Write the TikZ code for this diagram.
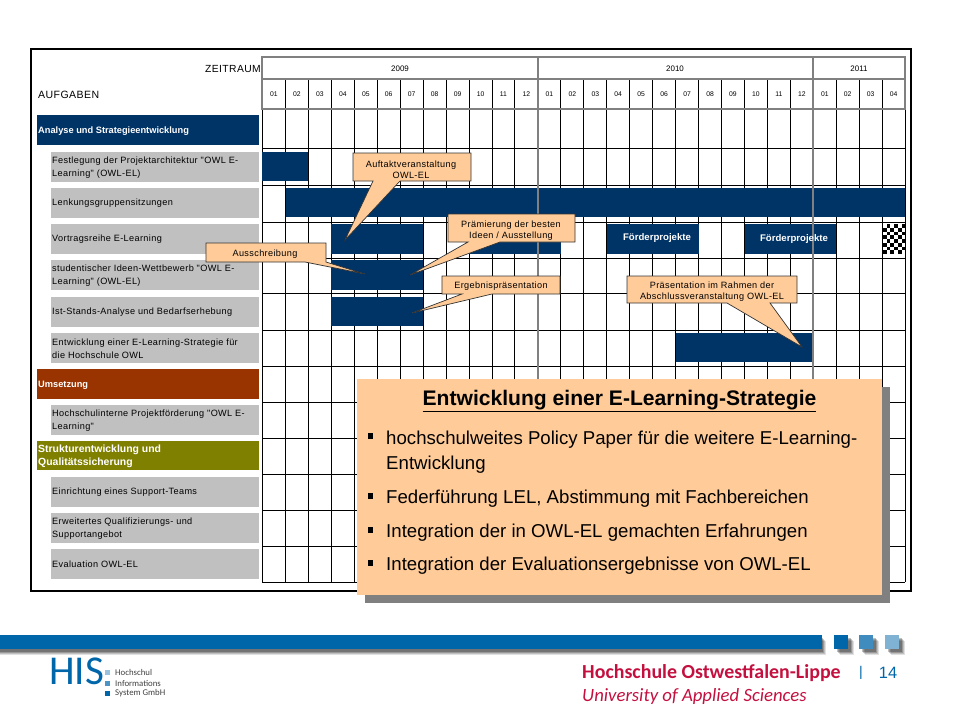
\documentclass[tikz,border=0pt]{standalone}
\usepackage{fontspec}
\setmainfont{Liberation Sans}
\newfontfamily\logofont{Carlito}
\newfontfamily\widefont[LetterSpace=4]{Liberation Sans}
\definecolor{OWLnavy}{HTML}{003366}
\definecolor{OWLrust}{HTML}{993300}
\definecolor{OWLolive}{HTML}{808000}
\definecolor{OWLgray}{HTML}{C0C0C0}
\definecolor{OWLframe}{HTML}{808080}
\definecolor{OWLpeach}{HTML}{FFCC99}
\definecolor{HISblue}{HTML}{0066AA}
\definecolor{HSred}{HTML}{C4103F}
\tikzset{
   grouplabel/.style={anchor=west, text=white, align=left, inner sep=0pt, font=\bfseries\fontsize{7.9}{11}\selectfont},
   tasklabel/.style={anchor=west, align=left, inner sep=0pt, font=\widefont\fontsize{7.8}{11}\selectfont},
   gridhead/.style={inner sep=0pt, font=\fontsize{5.8}{7}\selectfont},
   callout/.style={fill=OWLpeach, draw=black!80, line width=0.6pt, line join=miter},
   callouttext/.style={align=center, inner sep=0pt, font=\widefont\fontsize{7.8}{9.6}\selectfont},
   baritem/.style={text=white, inner sep=0pt, font=\bfseries\fontsize{8.2}{9}\selectfont},
   paneltext/.style={anchor=west, align=left, inner sep=0pt, font=\fontsize{15.9}{21.3}\selectfont},
   panelmark/.style={fill=black, inner sep=0pt, minimum size=4.3pt}
}
\begin{document}
\begin{tikzpicture}[x=0.03cm, y=-0.03cm]
   \useasboundingbox (0,0) rectangle (960,720);
   % outer frame
   \draw[line width=2.2pt] (31,49) rectangle (911,591);
   \node[anchor=east, inner sep=0pt, font=\widefont\fontsize{8.8}{9}\selectfont] (zeitraum) at (261,69) {ZEITRAUM};
   \node[anchor=west, inner sep=0pt, font=\widefont\fontsize{9}{9}\selectfont] (aufgaben) at (38,94.5) {AUFGABEN};
   % left column
   \fill[OWLnavy] (37,115) rectangle (259,145);
   \node[grouplabel] (group1) at (38,131.5) {Analyse und Strategieentwicklung};
   \fill[OWLrust] (37,369) rectangle (259,399);
   \node[grouplabel] (group2) at (38,385.5) {Umsetzung};
   \fill[OWLolive] (37,441) rectangle (259,470);
   \node[grouplabel, font=\bfseries\fontsize{8.9}{11}\selectfont] (group3) at (38,456) {Strukturentwicklung und\\Qualitätssicherung};
   \foreach \ytop/\txt [count=\n] in {
      152/{Festlegung der Projektarchitektur "OWL E-\\Learning" (OWL-EL)},
      188/{Lenkungsgruppensitzungen},
      224/{Vortragsreihe E-Learning},
      260/{studentischer Ideen-Wettbewerb "OWL E-\\Learning" (OWL-EL)},
      297/{Ist-Stands-Analyse und Bedarfserhebung},
      333/{Entwicklung einer E-Learning-Strategie für\\die Hochschule OWL},
      405/{Hochschulinterne Projektförderung "OWL E-\\Learning"},
      477/{Einrichtung eines Support-Teams},
      513/{Erweitertes Qualifizierungs- und\\Supportangebot},
      549/{Evaluation OWL-EL}}{
      \fill[OWLgray] (51,\ytop) rectangle (259,\ytop+29.5);
      \node[tasklabel] (task\n) at (52,\ytop+15.5) {\txt};
   }
   % grid
   \foreach \y in {109,148,185,222,258,293,330,366,402,438,474,510,546,582}
      \draw[line width=0.8pt] (262,\y) -- (905,\y);
   \foreach \i in {0,...,28}
      \draw[line width=0.8pt] ({262.5+22.95*\i},79) -- ({262.5+22.95*\i},582);
   \foreach \m [count=\i from 0] in {01,02,03,04,05,06,07,08,09,10,11,12,01,02,03,04,05,06,07,08,09,10,11,12,01,02,03,04}
      \node[gridhead] (month\i) at ({262.5+22.95*(\i+0.5)},94.5) {\m};
   % bars
   \fill[OWLnavy] (262,152) rectangle (308,181);
   \fill[OWLnavy] (285.5,188) rectangle (905,217);
   \fill[OWLnavy] (331,224) rectangle (423,254);
   \fill[OWLnavy] (469,224) rectangle (561,254);
   \fill[OWLnavy] (331,260) rectangle (423,290);
   \fill[OWLnavy] (331,297) rectangle (423,326);
   \fill[OWLnavy] (676,333) rectangle (813,362);
   \fill[OWLnavy] (607,224) rectangle (699,254);
   \fill[OWLnavy] (745,224) rectangle (836,254);
   \fill[white] (883,224) rectangle (905,254);
   \foreach \i in {0,...,5}
      \foreach \j in {0,...,7}{
         \ifodd\numexpr\i+\j\relax
            \fill[black] ({883+3.7*\i},{224+3.75*\j}) rectangle +(3.7,3.75);
         \fi
      }
   % year header
   \draw[OWLframe, line width=1.7pt] (262,57) rectangle (905,109);
   \draw[OWLframe, line width=1.7pt] (262,79) -- (905,79);
   \draw[OWLframe, line width=1.7pt] (538,57) -- (538,582);
   \draw[OWLframe, line width=1.7pt] (813,57) -- (813,582);
   \foreach \x/\yr in {400/2009,675/2010,859/2011}
      \node[gridhead, font=\fontsize{6.8}{7}\selectfont] (year\yr) at (\x,68.5) {\yr};
   \node[baritem] (foerder1) at (657,238) {Förderprojekte};
   \node[baritem] (foerder2) at (794,239) {Förderprojekte};
   % callouts
   \draw[callout] (353,153) -- (471,153) -- (471,181) -- (400,181) -- (345,240) -- (373,181) -- (353,181) -- cycle;
   \node[callouttext] (kickoff) at (411,169.5) {Auftaktveranstaltung\\OWL-EL};
   \draw[callout] (448,214) -- (575,214) -- (575,242) -- (500,242) -- (410,275) -- (468,242) -- (448,242) -- cycle;
   \node[callouttext] (award) at (511,230.5) {Prämierung der besten\\Ideen / Ausstellung};
   \draw[callout] (442,276) -- (560,276) -- (560,294) -- (492,294) -- (412,313) -- (462,294) -- (442,294) -- cycle;
   \node[callouttext] (results) at (501,286) {Ergebnispräsentation};
   \draw[callout] (206,243) -- (326,243) -- (326,262) -- (365,274) -- (305,262) -- (206,262) -- cycle;
   \node[callouttext] (tender) at (265,254) {Ausschreibung};
   \draw[callout] (627,276) -- (797,276) -- (797,303) -- (770,303) -- (802,347) -- (727,303) -- (627,303) -- cycle;
   \node[callouttext] (closing) at (712,291.5) {Präsentation im Rahmen der\\Abschlussveranstaltung OWL-EL};
   % strategy panel
   \fill[OWLframe] (365,387) rectangle (890,603);
   \fill[OWLpeach] (357,379) rectangle (882,595);
   \node[inner sep=0pt, font=\bfseries\fontsize{18}{20}\selectfont] (paneltitle) at (619.5,401) {\underline{Entwicklung einer E-Learning-Strategie}};
   \node[panelmark] (mark1) at (370.5,436) {};
   \node[paneltext] (point1) at (386,452.5) {hochschulweites Policy Paper für die weitere E-Learning-\\Entwicklung};
   \node[panelmark] (mark2) at (370.5,496) {};
   \node[paneltext] (point2) at (386,499) {Federführung LEL, Abstimmung mit Fachbereichen};
   \node[panelmark] (mark3) at (370.5,530) {};
   \node[paneltext] (point3) at (386,533) {Integration der in OWL-EL gemachten Erfahrungen};
   \node[panelmark] (mark4) at (370.5,563) {};
   \node[paneltext] (point4) at (386,566) {Integration der Evaluationsergebnisse von OWL-EL};
   % footer
   \foreach \d/\o in {6/12,5/15,4/20,3/25}{
      \fill[black, opacity=\o/100] (0,635+\d) rectangle (820+\d,649+\d);
      \fill[black, opacity=\o/100] (834+\d,635+\d) rectangle (848+\d,649+\d);
      \fill[black, opacity=\o/100] (859+\d,635+\d) rectangle (873+\d,649+\d);
      \fill[black, opacity=\o/100] (885+\d,635+\d) rectangle (899+\d,649+\d);
   }
   \fill[HISblue] (0,635) rectangle (822,649);
   \fill[HISblue] (834,635) rectangle (848,649);
   \fill[HISblue!75!white] (859,635) rectangle (873,649);
   \fill[HISblue!50!white] (885,635) rectangle (899,649);
   \node[inner sep=0pt, text=HISblue, anchor=west, font=\logofont\fontsize{35}{35}\selectfont] (hislogo) at (49,671) {HIS};
   \foreach \y/\o/\txt [count=\n] in {672.5/40/Hochschul,683/70/Informations,693.5/100/System GmbH}{
      \fill[HISblue!\o!white] (105,\y-2.5) rectangle (110,\y+2.5);
      \node[anchor=west, inner sep=0pt, text=black!75, font=\logofont\fontsize{7.5}{8}\selectfont] (his\n) at (115,\y) {\txt};
   }
   \node[anchor=west, inner sep=0pt, text=HSred, font=\logofont\bfseries\fontsize{17}{20}\selectfont] (hsname) at (582,673) {Hochschule Ostwestfalen-Lippe};
   \node[anchor=west, inner sep=0pt, text=HSred, font=\logofont\itshape\fontsize{16}{20}\selectfont] (hsname2) at (582,696) {University of Applied Sciences};
   \node[inner sep=0pt, text=HISblue, font=\fontsize{12}{14}\selectfont] (pagebar) at (861,673) {|};
   \node[inner sep=0pt, text=HISblue, font=\fontsize{14}{14}\selectfont] (pagenum) at (888,672.5) {14};
\end{tikzpicture}
\end{document}
